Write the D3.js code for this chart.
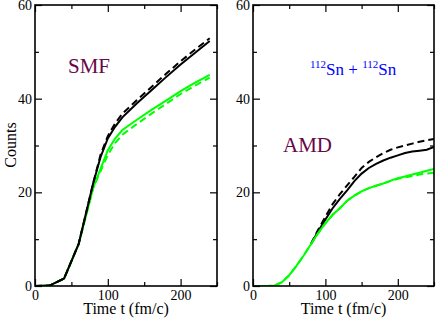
<!DOCTYPE html>
<html>
<head>
<meta charset="utf-8">
<script src="https://cdn.jsdelivr.net/npm/d3@7"></script>
<style>
	body{margin:0;background:#fff;}
</style>
</head>
<body>
<script>
//time grid (fm/c) and counts
var smfTime =[0, 20, 40, 60, 80, 90, 100, 110, 120, 140, 160, 180, 200, 220, 240];
var smfBlack =[0, 0.1, 1.6, 9, 22, 27.5, 31.5, 34, 36, 39, 41.8, 44.6, 47.3, 49.8, 52.3];
var smfBlackDash =[0, 0.1, 1.6, 9, 22, 28, 32, 34.7, 36.8, 39.7, 42.5, 45.3, 48, 50.5, 52.9];
var smfGreen =[0, 0.1, 1.6, 9, 21, 25, 29, 31.5, 33.3, 35.5, 37.6, 39.6, 41.6, 43.4, 45.1];
var smfGreenDash =[0, 0.1, 1.6, 9, 21, 24.5, 28, 30.5, 32.3, 34.6, 36.8, 38.9, 41, 42.8, 44.5];

var amdTime =[0, 10, 20, 30, 40, 50, 60, 70, 80, 90, 100, 110, 120, 130, 140, 150, 160, 170, 180, 190, 200, 210, 220, 230, 240, 250];
var amdGreen =[0, 0, 0, 0.1, 0.8, 2.3, 4.3, 6.5, 8.9, 11.3, 13.4, 15.2, 16.6, 18.2, 19.3, 20.2, 20.9, 21.4, 21.9, 22.5, 23, 23.4, 23.8, 24.2, 24.6, 25];
var amdGreenDash =[0, 0, 0, 0.1, 0.8, 2.3, 4.3, 6.5, 8.9, 11.3, 13.4, 15.2, 16.6, 18.2, 19.3, 20.2, 20.9, 21.4, 21.9, 22.4, 22.9, 23.2, 23.5, 23.8, 24, 24.2];
var amdBlackTime =[80, 90, 100, 110, 120, 130, 140, 150, 160, 170, 180, 190, 200, 210, 220, 230, 240, 250];
var amdBlack =[8.9, 11.7, 14.2, 16.6, 18.6, 20.4, 22.4, 24, 25.2, 26.1, 26.8, 27.4, 27.9, 28.4, 28.7, 28.9, 29.1, 29.7];
var amdBlackDash =[9, 12, 14.8, 17.5, 19.6, 21.5, 23.3, 25.2, 26.5, 27.5, 28.4, 29.1, 29.6, 30, 30.4, 30.8, 31.1, 31.4];

var xMajor =[0, 100, 200];
var xMinor =[50, 150, 250];
var yMajor =[0, 20, 40, 60];
var yMinor =[10, 30, 50];

var serif ="'Liberation Serif', monospace";

var width =436, height =320;
var top_ =5, bottom =286;

var svg =d3.select("body")
	.append("svg")
	.attr("width", width)
	.attr("height", height);

var yScale =d3.scaleLinear()
	.domain([0, 60])
	.range([bottom, top_]);

function makePanel(left, right, series){
	var xScale =d3.scaleLinear()
		.domain([0, 250])
		.range([left, right]);

	var g =svg.append("g");

	//clip lines to frame
	var clipId ="clip" + left;
	g.append("clipPath")
		.attr("id", clipId)
		.append("rect")
		.attr("x", left)
		.attr("y", top_)
		.attr("width", right - left)
		.attr("height", bottom - top_);

	var line =d3.line()
		.x(function(d){ return xScale(d[0]); })
		.y(function(d){ return yScale(d[1]); });

	series.forEach(function(s){
		g.append("path")
			.datum(d3.zip(s.t, s.v))
			.attr("clip-path", "url(#" + clipId + ")")
			.attr("d", line)
			.attr("fill", "none")
			.attr("stroke", s.color)
			.attr("stroke-width", 2)
			.attr("stroke-dasharray", s.dash ? "7,4" : null);
	});

	//axes, ticks pointing inward on all sides
	g.append("g").attr("transform", "translate(0," + bottom + ")")
		.call(d3.axisBottom(xScale).tickValues(xMajor).tickSize(-7).tickPadding(4).tickFormat(d3.format("d")));
	g.append("g").attr("transform", "translate(0," + bottom + ")")
		.call(d3.axisBottom(xScale).tickValues(xMinor).tickSize(-4).tickFormat(""));
	g.append("g").attr("transform", "translate(0," + top_ + ")")
		.call(d3.axisTop(xScale).tickValues(xMajor).tickSize(-7).tickFormat(""));
	g.append("g").attr("transform", "translate(0," + top_ + ")")
		.call(d3.axisTop(xScale).tickValues(xMinor).tickSize(-4).tickFormat(""));

	g.append("g").attr("transform", "translate(" + left + ",0)")
		.call(d3.axisLeft(yScale).tickValues(yMajor).tickSize(-7).tickPadding(3).tickFormat(d3.format("d")));
	g.append("g").attr("transform", "translate(" + left + ",0)")
		.call(d3.axisLeft(yScale).tickValues(yMinor).tickSize(-4).tickFormat(""));
	g.append("g").attr("transform", "translate(" + right + ",0)")
		.call(d3.axisRight(yScale).tickValues(yMajor).tickSize(-7).tickFormat(""));
	g.append("g").attr("transform", "translate(" + right + ",0)")
		.call(d3.axisRight(yScale).tickValues(yMinor).tickSize(-4).tickFormat(""));

	g.selectAll(".domain").remove();
	g.selectAll(".tick line").attr("stroke", "#000").attr("stroke-width", 1.2);
	g.selectAll(".tick text")
		.attr("fill", "#000")
		.style("font-family", serif)
		.style("font-size", "14px");

	g.append("rect")
		.attr("x", left)
		.attr("y", top_)
		.attr("width", right - left)
		.attr("height", bottom - top_)
		.attr("fill", "none")
		.attr("stroke", "#000")
		.attr("stroke-width", 1.6);

	g.append("text")
		.attr("x", (left + right) / 2)
		.attr("y", 314)
		.attr("text-anchor", "middle")
		.style("font-family", serif)
		.style("font-size", "16px")
		.text("Time t (fm/c)");

	return g;
}

var smf =makePanel(35, 217, [
	{t: smfTime, v: smfGreen, color: "#00ff00", dash: false},
	{t: smfTime, v: smfGreenDash, color: "#00ff00", dash: true},
	{t: smfTime, v: smfBlack, color: "#000", dash: false},
	{t: smfTime, v: smfBlackDash, color: "#000", dash: true}
]);

var amd =makePanel(253, 434, [
	{t: amdBlackTime, v: amdBlack, color: "#000", dash: false},
	{t: amdBlackTime, v: amdBlackDash, color: "#000", dash: true},
	{t: amdTime, v: amdGreen, color: "#00ff00", dash: false},
	{t: amdTime, v: amdGreenDash, color: "#00ff00", dash: true}
]);

svg.append("text")
	.attr("transform", "translate(16,145) rotate(-90)")
	.attr("text-anchor", "middle")
	.style("font-family", serif)
	.style("font-size", "16px")
	.text("Counts");

smf.append("text")
	.attr("x", 68)
	.attr("y", 73)
	.attr("fill", "#670748")
	.style("font-family", serif)
	.style("font-size", "21px")
	.text("SMF");

amd.append("text")
	.attr("x", 283)
	.attr("y", 152)
	.attr("fill", "#670748")
	.style("font-family", serif)
	.style("font-size", "21px")
	.text("AMD");

var reaction =amd.append("text")
	.attr("x", 310)
	.attr("y", 75)
	.attr("fill", "#0000ff")
	.style("font-family", serif)
	.style("font-size", "17px");
reaction.append("tspan").attr("dy", -7).style("font-size", "11px").text("112");
reaction.append("tspan").attr("dy", 7).text("Sn + ");
reaction.append("tspan").attr("dy", -7).style("font-size", "11px").text("112");
reaction.append("tspan").attr("dy", 7).text("Sn");
</script>
</body>
</html>
